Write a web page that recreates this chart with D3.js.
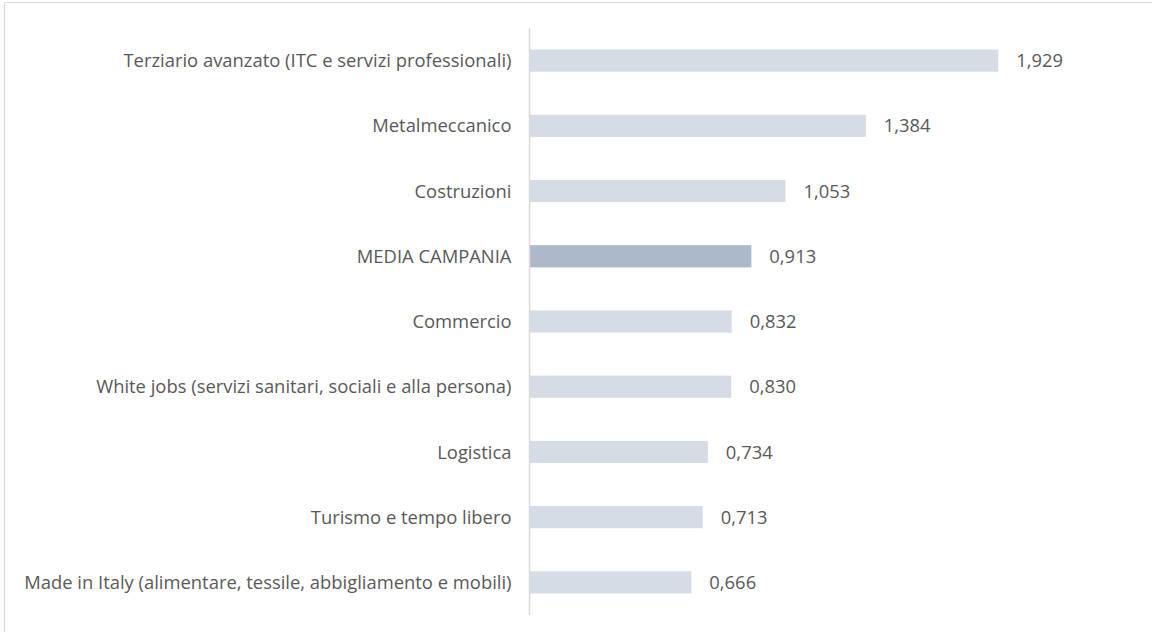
<!DOCTYPE html>
<html><head><meta charset="utf-8">
<script src="https://cdn.jsdelivr.net/npm/d3@7"></script>
<style>
html,body{margin:0;padding:0;background:#fff;}
svg{display:block;}
</style></head>
<body><svg id="c" width="1152" height="636"></svg>
<script>
const categories = [
  "Terziario avanzato (ITC e servizi professionali)",
  "Metalmeccanico",
  "Costruzioni",
  "MEDIA CAMPANIA",
  "Commercio",
  "White jobs (servizi sanitari, sociali e alla persona)",
  "Logistica",
  "Turismo e tempo libero",
  "Made in Italy (alimentare, tessile, abbigliamento e mobili)"
];
const values = [1.929, 1.384, 1.053, 0.913, 0.832, 0.830, 0.734, 0.713, 0.666];
const highlight = ["MEDIA CAMPANIA"];

const svg = d3.select("#c");
const x0 = 529.5;
const x = d3.scaleLinear().domain([0, 2]).range([x0, x0 + 486]);
const y = d3.scaleBand().domain(categories).range([28, 615]).paddingInner(0.66).paddingOuter(0.33);

// frame
svg.append("line").attr("x1",4.5).attr("x2",1152).attr("y1",2.5).attr("y2",2.5).attr("stroke","#d9d9d9").attr("stroke-width",1.2);
svg.append("line").attr("x1",4.5).attr("x2",4.5).attr("y1",2.5).attr("y2",632).attr("stroke","#d9d9d9").attr("stroke-width",1.2);

const fmt = v => d3.format(".3f")(v).replace(".", ",");
const font = "'Open Sans', sans-serif";
const fs = 18.4;

svg.append("g").selectAll("rect").data(categories).join("rect")
  .attr("x", x(0))
  .attr("y", d => y(d))
  .attr("width", (d,i) => x(values[i]) - x(0))
  .attr("height", y.bandwidth())
  .attr("fill", d => highlight.includes(d) ? "#adb9ca" : "#d6dce5");

svg.append("line").attr("x1",x0).attr("x2",x0).attr("y1",28).attr("y2",615).attr("stroke","#d9d9d9").attr("stroke-width",1.5);

svg.append("g").selectAll("text").data(categories).join("text")
  .attr("x", x0 - 18)
  .attr("y", d => y(d) + y.bandwidth()/2)
  .attr("dy", "0.36em")
  .attr("text-anchor", "end")
  .attr("font-family", font)
  .attr("font-size", fs)
  .attr("fill", "#595959")
  .text(d => d);

svg.append("g").selectAll("text").data(categories).join("text")
  .attr("x", (d,i) => x(values[i]) + 18)
  .attr("y", d => y(d) + y.bandwidth()/2)
  .attr("dy", "0.36em")
  .attr("font-family", font)
  .attr("font-size", fs)
  .attr("fill", "#595959")
  .text((d,i) => fmt(values[i]));
</script></body></html>
